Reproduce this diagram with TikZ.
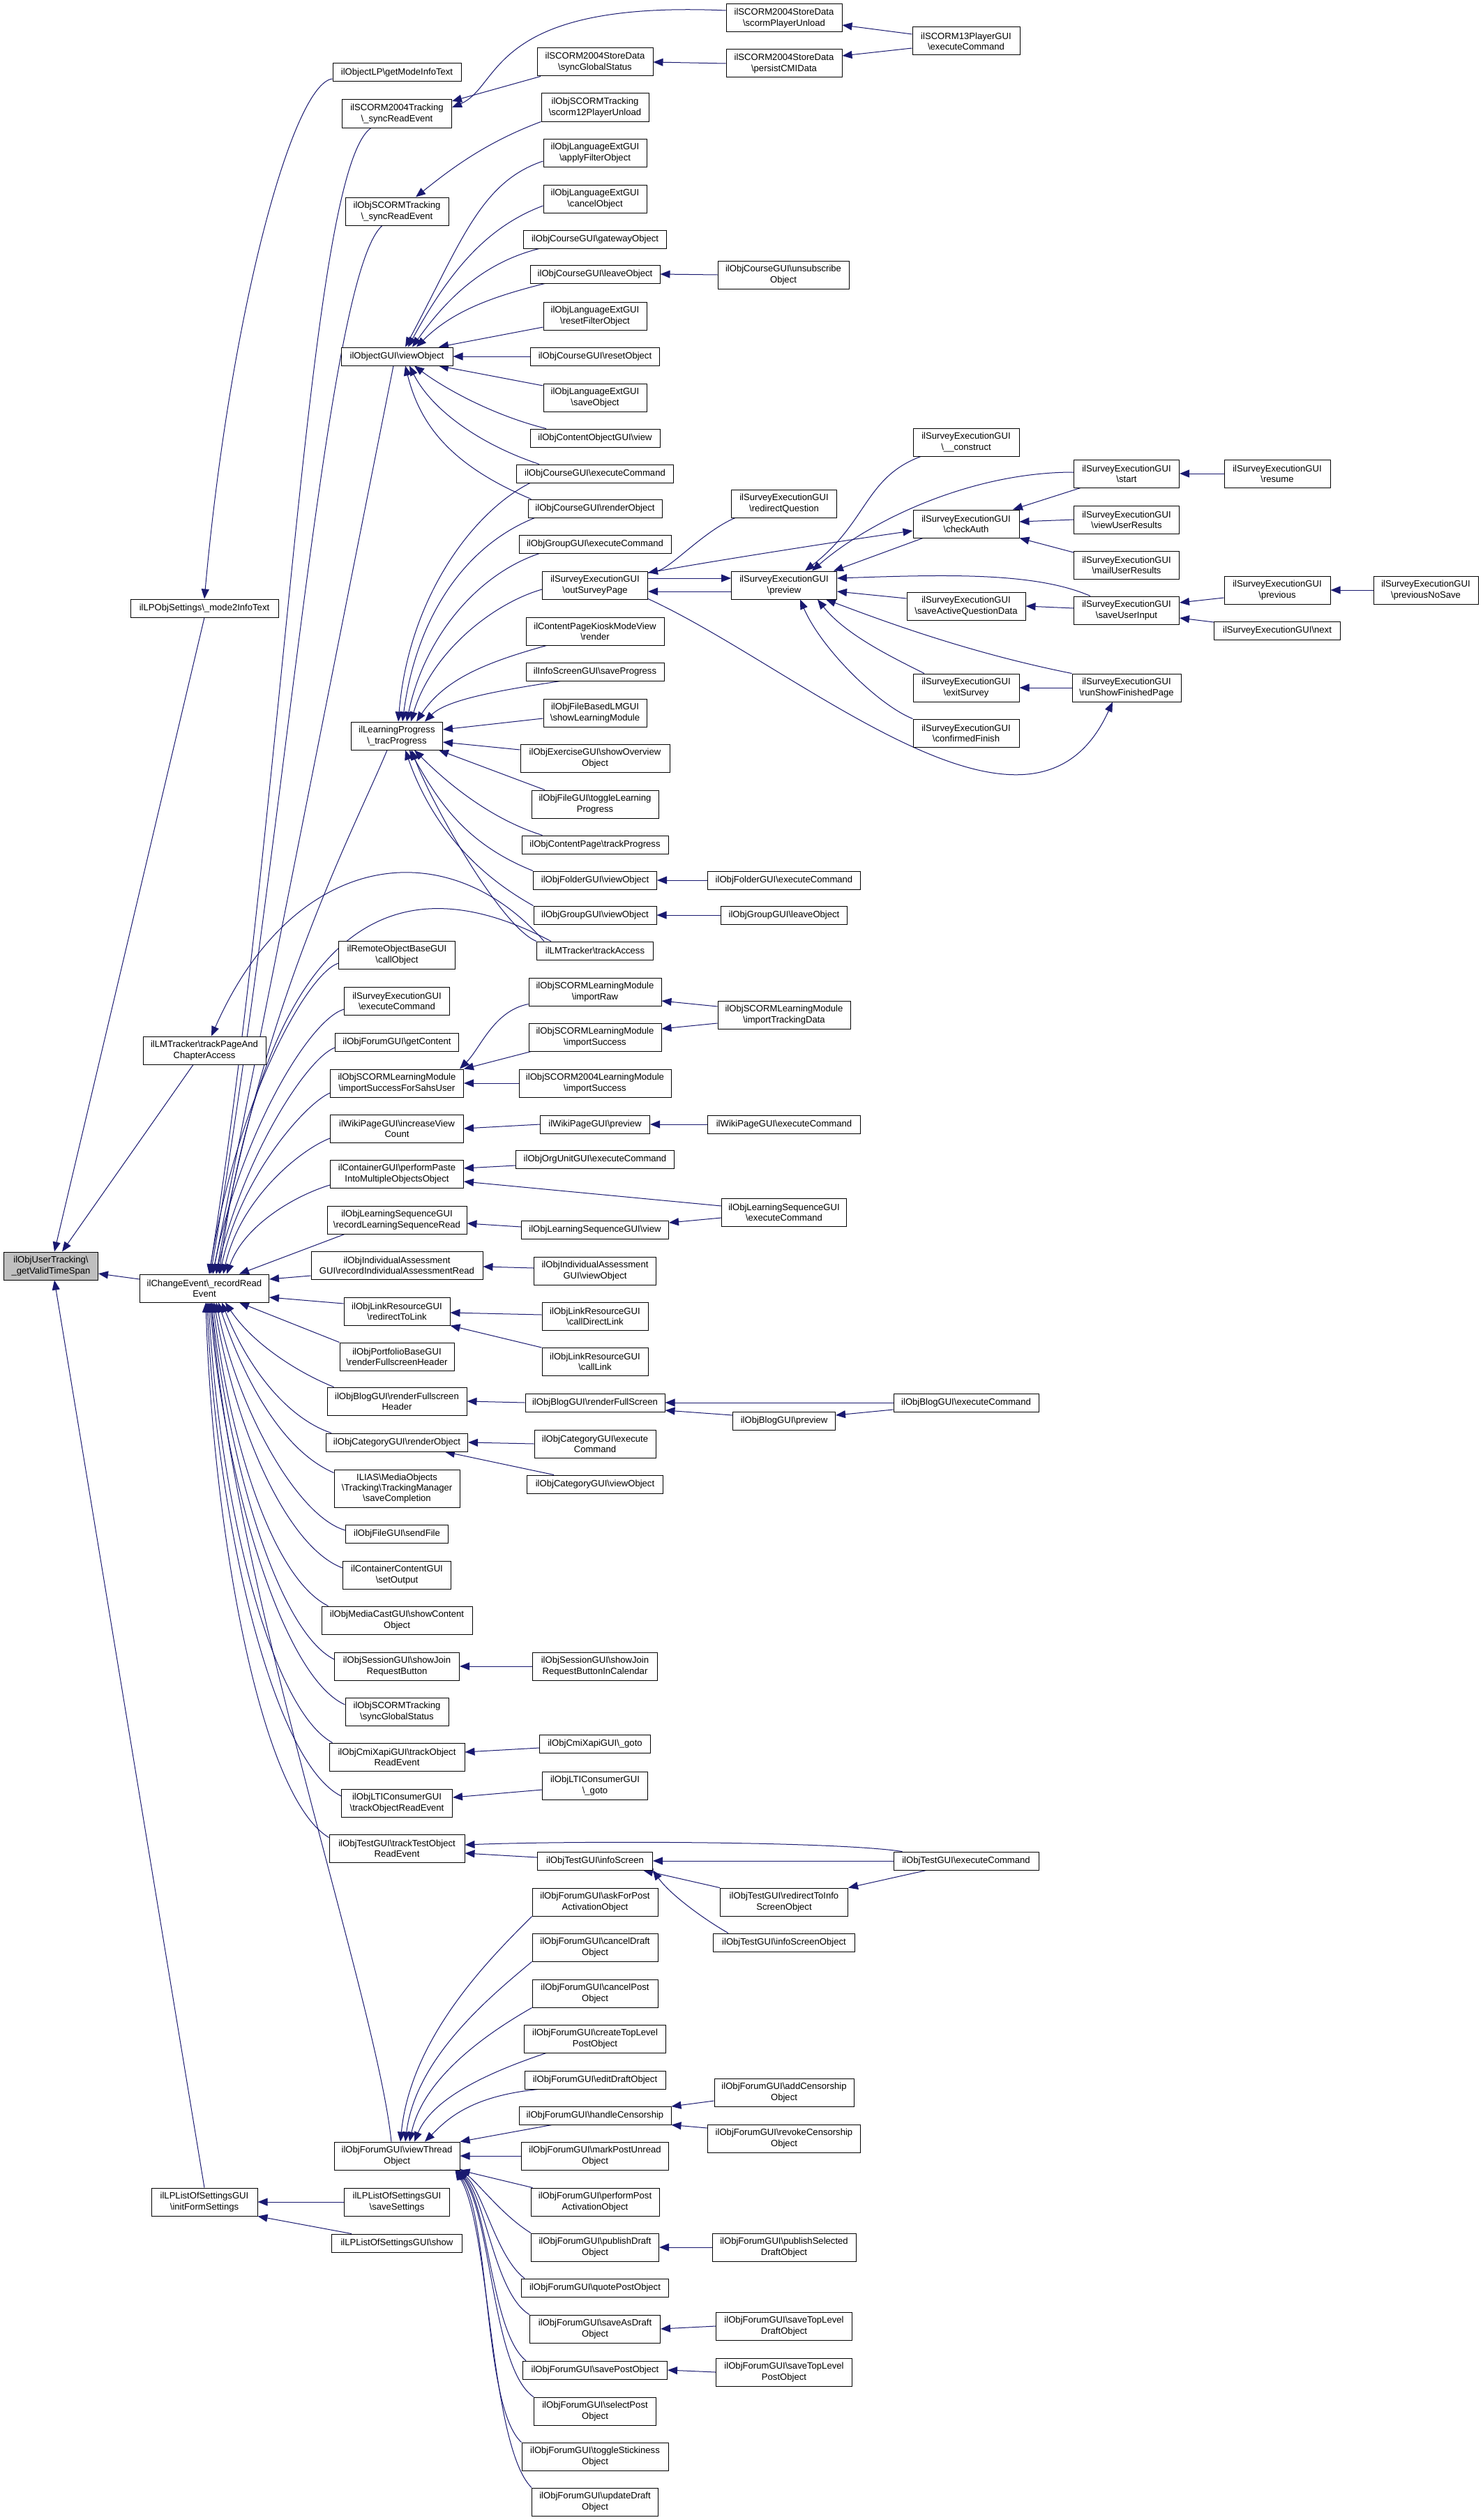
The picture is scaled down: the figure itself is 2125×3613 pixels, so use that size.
\documentclass[tikz,border=0pt]{standalone}
\usepackage{fontspec}
\setmainfont{Liberation Sans}
\usetikzlibrary{arrows.meta,calc}
\definecolor{edgec}{HTML}{191970}
\definecolor{rootgray}{HTML}{BFBFBF}
\newcommand{\BSL}{\textbackslash}
\pgfdeclarelayer{bg}
\pgfdeclarelayer{edges}
\pgfsetlayers{bg,edges,main}
\tikzset{
  box/.style={draw=black, line width=1pt, fill=white, inner sep=0pt, align=center,
    font=\fontsize{13.1}{15.3}\selectfont},
  bxa/.style={box, minimum height=26},
  bxb/.style={box, minimum height=40},
  bxc/.style={box, minimum height=54},
  arr/.style={draw=edgec, line width=1pt, -{Triangle[length=14pt,width=11pt]}}
}
\begin{document}
\begin{tikzpicture}[x=1pt,y=-1pt]
\begin{pgfonlayer}{bg}
\fill[white] (0,0) rectangle (2125,3613);
\end{pgfonlayer}
\useasboundingbox (0,0) rectangle (2125,3613);

% column 0
\node[bxb, fill=rootgray, minimum width=135] (root) at (73,1815) {ilObjUserTracking\BSL\\\_getValidTimeSpan};
% column 1
\node[bxa, minimum width=212] (m2i) at (293,872) {ilLPObjSettings\BSL\_mode2InfoText};
\node[bxb, minimum width=176] (tpca) at (293,1506) {ilLMTracker\BSL trackPageAnd\\ChapterAccess};
\node[bxb, minimum width=185] (rre) at (293,1847) {ilChangeEvent\BSL\_recordRead\\Event};
\node[bxb, minimum width=152] (ifs) at (293,3157) {ilLPListOfSettingsGUI\\\BSL initFormSettings};
% column 2
\node[bxa, minimum width=184] (gmit) at (569,104) {ilObjectLP\BSL getModeInfoText};
\node[bxb, minimum width=157] (s04sre) at (569,163) {ilSCORM2004Tracking\\\BSL\_syncReadEvent};
\node[bxb, minimum width=148] (osre) at (569,303) {ilObjSCORMTracking\\\BSL\_syncReadEvent};
\node[bxa, minimum width=160] (ogv) at (569,511) {ilObjectGUI\BSL viewObject};
\node[bxb, minimum width=131] (ltp) at (569,1055) {ilLearningProgress\\\BSL\_tracProgress};
\node[bxb, minimum width=167] (rcall) at (569,1369) {ilRemoteObjectBaseGUI\\\BSL callObject};
\node[bxb, minimum width=151] (sexec) at (569,1435) {ilSurveyExecutionGUI\\\BSL executeCommand};
\node[bxa, minimum width=177] (fgc) at (569,1494) {ilObjForumGUI\BSL getContent};
\node[bxb, minimum width=191] (iss) at (569,1553) {ilObjSCORMLearningModule\\\BSL importSuccessForSahsUser};
\node[bxb, minimum width=191] (ivc) at (569,1618) {ilWikiPageGUI\BSL increaseView\\Count};
\node[bxb, minimum width=191] (pp) at (569,1683) {ilContainerGUI\BSL performPaste\\IntoMultipleObjectsObject};
\node[bxb, minimum width=200] (rlsr) at (569,1749) {ilObjLearningSequenceGUI\\\BSL recordLearningSequenceRead};
\node[bxb, minimum width=246] (rias) at (569,1814) {ilObjIndividualAssessment\\GUI\BSL recordIndividualAssessmentRead};
\node[bxb, minimum width=152] (rtl) at (569,1880) {ilObjLinkResourceGUI\\\BSL redirectToLink};
\node[bxb, minimum width=164] (pfh) at (569,1945) {ilObjPortfolioBaseGUI\\\BSL renderFullscreenHeader};
\node[bxb, minimum width=200] (bfh) at (569,2009) {ilObjBlogGUI\BSL renderFullscreen\\Header};
\node[bxa, minimum width=203] (cro) at (569,2068) {ilObjCategoryGUI\BSL renderObject};
\node[bxc, minimum width=180] (tmsc) at (569,2134) {ILIAS\BSL MediaObjects\\\BSL Tracking\BSL TrackingManager\\\BSL saveCompletion};
\node[bxa, minimum width=147] (fsf) at (569,2199) {ilObjFileGUI\BSL sendFile};
\node[bxb, minimum width=155] (ccso) at (569,2258) {ilContainerContentGUI\\\BSL setOutput};
\node[bxb, minimum width=216] (mcsc) at (569,2323) {ilObjMediaCastGUI\BSL showContent\\Object};
\node[bxb, minimum width=179] (sjrb) at (569,2389) {ilObjSessionGUI\BSL showJoin\\RequestButton};
\node[bxb, minimum width=148] (osgs) at (569,2454) {ilObjSCORMTracking\\\BSL syncGlobalStatus};
\node[bxb, minimum width=194] (cmit) at (569,2519) {ilObjCmiXapiGUI\BSL trackObject\\ReadEvent};
\node[bxb, minimum width=159] (ltit) at (569,2585) {ilObjLTIConsumerGUI\\\BSL trackObjectReadEvent};
\node[bxb, minimum width=194] (ttre) at (569,2650) {ilObjTestGUI\BSL trackTestObject\\ReadEvent};
\node[bxb, minimum width=180] (vto) at (569,3091) {ilObjForumGUI\BSL viewThread\\Object};
\node[bxb, minimum width=151] (lss) at (569,3157) {ilLPListOfSettingsGUI\\\BSL saveSettings};
\node[bxa, minimum width=187] (lsh) at (569,3216) {ilLPListOfSettingsGUI\BSL show};
% column 3
\node[bxb, minimum width=166] (sgs) at (853,89) {ilSCORM2004StoreData\\\BSL syncGlobalStatus};
\node[bxb, minimum width=154] (s12u) at (853,154) {ilObjSCORMTracking\\\BSL scorm12PlayerUnload};
\node[bxb, minimum width=148] (afo) at (853,219) {ilObjLanguageExtGUI\\\BSL applyFilterObject};
\node[bxb, minimum width=148] (lco) at (853,285) {ilObjLanguageExtGUI\\\BSL cancelObject};
\node[bxa, minimum width=205] (cgw) at (853,343) {ilObjCourseGUI\BSL gatewayObject};
\node[bxa, minimum width=186] (clo) at (853,393) {ilObjCourseGUI\BSL leaveObject};
\node[bxb, minimum width=148] (rfo) at (853,453) {ilObjLanguageExtGUI\\\BSL resetFilterObject};
\node[bxa, minimum width=185] (crs) at (853,511) {ilObjCourseGUI\BSL resetObject};
\node[bxb, minimum width=148] (lso) at (853,570) {ilObjLanguageExtGUI\\\BSL saveObject};
\node[bxa, minimum width=186] (cov) at (853,628) {ilObjContentObjectGUI\BSL view};
\node[bxa, minimum width=225] (cex) at (853,679) {ilObjCourseGUI\BSL executeCommand};
\node[bxa, minimum width=192] (cre) at (853,729) {ilObjCourseGUI\BSL renderObject};
\node[bxa, minimum width=218] (gex) at (853,780) {ilObjGroupGUI\BSL executeCommand};
\node[bxb, minimum width=151] (osp) at (853,839) {ilSurveyExecutionGUI\\\BSL outSurveyPage};
\node[bxb, minimum width=198] (kmv) at (853,905) {ilContentPageKioskModeView\\\BSL render};
\node[bxa, minimum width=198] (isp) at (853,963) {ilInfoScreenGUI\BSL saveProgress};
\node[bxb, minimum width=148] (slm) at (853,1022) {ilObjFileBasedLMGUI\\\BSL showLearningModule};
\node[bxb, minimum width=214] (eso) at (853,1087) {ilObjExerciseGUI\BSL showOverview\\Object};
\node[bxb, minimum width=182] (ftl) at (853,1153) {ilObjFileGUI\BSL toggleLearning\\Progress};
\node[bxa, minimum width=210] (cptp) at (853,1211) {ilObjContentPage\BSL trackProgress};
\node[bxa, minimum width=177] (fvo) at (853,1262) {ilObjFolderGUI\BSL viewObject};
\node[bxa, minimum width=176] (gvo) at (853,1312) {ilObjGroupGUI\BSL viewObject};
\node[bxa, minimum width=167] (lta) at (853,1363) {ilLMTracker\BSL trackAccess};
\node[bxb, minimum width=190] (imr) at (853,1422) {ilObjSCORMLearningModule\\\BSL importRaw};
\node[bxb, minimum width=190] (ims) at (853,1487) {ilObjSCORMLearningModule\\\BSL importSuccess};
\node[bxb, minimum width=218] (im04) at (853,1553) {ilObjSCORM2004LearningModule\\\BSL importSuccess};
\node[bxa, minimum width=157] (wpp) at (853,1612) {ilWikiPageGUI\BSL preview};
\node[bxa, minimum width=227] (oue) at (853,1662) {ilObjOrgUnitGUI\BSL executeCommand};
\node[bxa, minimum width=211] (lsv) at (853,1763) {ilObjLearningSequenceGUI\BSL view};
\node[bxb, minimum width=175] (iavo) at (853,1822) {ilObjIndividualAssessment\\GUI\BSL viewObject};
\node[bxb, minimum width=152] (cdl) at (853,1887) {ilObjLinkResourceGUI\\\BSL callDirectLink};
\node[bxb, minimum width=152] (clk) at (853,1952) {ilObjLinkResourceGUI\\\BSL callLink};
\node[bxa, minimum width=200] (brfs) at (853,2011) {ilObjBlogGUI\BSL renderFullScreen};
\node[bxb, minimum width=174] (cate) at (853,2070) {ilObjCategoryGUI\BSL execute\\Command};
\node[bxa, minimum width=195] (catv) at (853,2128) {ilObjCategoryGUI\BSL viewObject};
\node[bxb, minimum width=179] (sjrc) at (853,2389) {ilObjSessionGUI\BSL showJoin\\RequestButtonInCalendar};
\node[bxa, minimum width=159] (cmig) at (853,2500) {ilObjCmiXapiGUI\BSL\_goto};
\node[bxb, minimum width=151] (ltig) at (853,2560) {ilObjLTIConsumerGUI\\\BSL\_goto};
\node[bxa, minimum width=165] (tis) at (853,2668) {ilObjTestGUI\BSL infoScreen};
\node[bxb, minimum width=180] (fap) at (853,2727) {ilObjForumGUI\BSL askForPost\\ActivationObject};
\node[bxb, minimum width=180] (fcd) at (853,2792) {ilObjForumGUI\BSL cancelDraft\\Object};
\node[bxb, minimum width=180] (fcp) at (853,2858) {ilObjForumGUI\BSL cancelPost\\Object};
\node[bxb, minimum width=203] (fctl) at (853,2923) {ilObjForumGUI\BSL createTopLevel\\PostObject};
\node[bxa, minimum width=202] (fed) at (853,2982) {ilObjForumGUI\BSL editDraftObject};
\node[bxa, minimum width=218] (fhc) at (853,3033) {ilObjForumGUI\BSL handleCensorship};
\node[bxb, minimum width=211] (fmu) at (853,3091) {ilObjForumGUI\BSL markPostUnread\\Object};
\node[bxb, minimum width=184] (fpp) at (853,3157) {ilObjForumGUI\BSL performPost\\ActivationObject};
\node[bxb, minimum width=183] (fpd) at (853,3222) {ilObjForumGUI\BSL publishDraft\\Object};
\node[bxa, minimum width=211] (fqp) at (853,3280) {ilObjForumGUI\BSL quotePostObject};
\node[bxb, minimum width=187] (fsd) at (853,3339) {ilObjForumGUI\BSL saveAsDraft\\Object};
\node[bxa, minimum width=207] (fsp) at (853,3398) {ilObjForumGUI\BSL savePostObject};
\node[bxb, minimum width=175] (fsel) at (853,3457) {ilObjForumGUI\BSL selectPost\\Object};
\node[bxb, minimum width=210] (fts) at (853,3522) {ilObjForumGUI\BSL toggleStickiness\\Object};
\node[bxb, minimum width=181] (fud) at (853,3587) {ilObjForumGUI\BSL updateDraft\\Object};
% column 4
\node[bxb, minimum width=166] (spu) at (1124,26) {ilSCORM2004StoreData\\\BSL scormPlayerUnload};
\node[bxb, minimum width=166] (pcd) at (1124,91) {ilSCORM2004StoreData\\\BSL persistCMIData};
\node[bxb, minimum width=188] (cuo) at (1123,394) {ilObjCourseGUI\BSL unsubscribe\\Object};
\node[bxb, minimum width=151] (srq) at (1124,722) {ilSurveyExecutionGUI\\\BSL redirectQuestion};
\node[bxb, minimum width=151] (spv) at (1124,839) {ilSurveyExecutionGUI\\\BSL preview};
\node[bxa, minimum width=219] (fex) at (1124,1262) {ilObjFolderGUI\BSL executeCommand};
\node[bxa, minimum width=181] (glo) at (1124,1312) {ilObjGroupGUI\BSL leaveObject};
\node[bxb, minimum width=190] (itd) at (1124,1455) {ilObjSCORMLearningModule\\\BSL importTrackingData};
\node[bxa, minimum width=219] (wpe) at (1124,1612) {ilWikiPageGUI\BSL executeCommand};
\node[bxb, minimum width=179] (lse) at (1124,1738) {ilObjLearningSequenceGUI\\\BSL executeCommand};
\node[bxa, minimum width=147] (bpv) at (1124,2037) {ilObjBlogGUI\BSL preview};
\node[bxb, minimum width=183] (rtis) at (1124,2727) {ilObjTestGUI\BSL redirectToInfo\\ScreenObject};
\node[bxa, minimum width=203] (tiso) at (1124,2785) {ilObjTestGUI\BSL infoScreenObject};
\node[bxb, minimum width=200] (fac) at (1124,3000) {ilObjForumGUI\BSL addCensorship\\Object};
\node[bxb, minimum width=219] (frc) at (1124,3066) {ilObjForumGUI\BSL revokeCensorship\\Object};
\node[bxb, minimum width=206] (fpsd) at (1124,3222) {ilObjForumGUI\BSL publishSelected\\DraftObject};
\node[bxb, minimum width=195] (fstd) at (1124,3335) {ilObjForumGUI\BSL saveTopLevel\\DraftObject};
\node[bxb, minimum width=195] (fstp) at (1124,3401) {ilObjForumGUI\BSL saveTopLevel\\PostObject};
% column 5
\node[bxb, minimum width=154] (s13) at (1385,59) {ilSCORM13PlayerGUI\\\BSL executeCommand};
\node[bxb, minimum width=152] (scon) at (1385,634) {ilSurveyExecutionGUI\\\BSL\_\_construct};
\node[bxb, minimum width=152] (sca) at (1385,751) {ilSurveyExecutionGUI\\\BSL checkAuth};
\node[bxb, minimum width=170] (saqd) at (1385,869) {ilSurveyExecutionGUI\\\BSL saveActiveQuestionData};
\node[bxb, minimum width=152] (sexs) at (1385,986) {ilSurveyExecutionGUI\\\BSL exitSurvey};
\node[bxb, minimum width=152] (scf) at (1385,1051) {ilSurveyExecutionGUI\\\BSL confirmedFinish};
\node[bxa, minimum width=208] (bex) at (1385,2011) {ilObjBlogGUI\BSL executeCommand};
\node[bxa, minimum width=208] (tex) at (1385,2668) {ilObjTestGUI\BSL executeCommand};
% column 6
\node[bxb, minimum width=151] (sst) at (1615,679) {ilSurveyExecutionGUI\\\BSL start};
\node[bxb, minimum width=151] (svur) at (1615,745) {ilSurveyExecutionGUI\\\BSL viewUserResults};
\node[bxb, minimum width=151] (smur) at (1615,810) {ilSurveyExecutionGUI\\\BSL mailUserResults};
\node[bxb, minimum width=151] (ssui) at (1615,875) {ilSurveyExecutionGUI\\\BSL saveUserInput};
\node[bxb, minimum width=156] (srsf) at (1615,986) {ilSurveyExecutionGUI\\\BSL runShowFinishedPage};
% column 7
\node[bxb, minimum width=152] (sres) at (1831,679) {ilSurveyExecutionGUI\\\BSL resume};
\node[bxb, minimum width=152] (sprev) at (1831,846) {ilSurveyExecutionGUI\\\BSL previous};
\node[bxa, minimum width=181] (snext) at (1831,904) {ilSurveyExecutionGUI\BSL next};
% column 8
\node[bxb, minimum width=150] (snsv) at (2044,846) {ilSurveyExecutionGUI\\\BSL previousNoSave};

\begin{pgfonlayer}{edges}
% into root
\draw[arr] (m2i.south) -- ([xshift=5pt]root.north);
\draw[arr] ([xshift=-16pt]tpca.south) -- ([xshift=16pt]root.north);
\draw[arr] ($(rre.west)+(0,-13)$) -- ($(root.east)+(0,11)$);
\draw[arr] (ifs.north) -- ([xshift=5pt]root.south);
% into m2i, tpca
\draw[arr] ($(gmit.west)+(0,9)$) .. controls +(-57,7) and +(37,-410) .. (m2i.north);
\draw[arr] ([xshift=-73pt]lta.north) .. controls +(-140,-160) and +(117,-266) .. ([xshift=10pt]tpca.north);
% into rre (top)
\draw[arr] ([xshift=-37pt]s04sre.south) .. controls +(-90,60) and +(110,-700) .. ([xshift=7pt]rre.north);
\draw[arr] ([xshift=-21pt]osre.south) .. controls +(-80,70) and +(110,-650) .. ([xshift=9pt]rre.north);
\draw[arr] ([xshift=-5pt]ogv.south) .. controls +(-30,150) and +(120,-600) .. ([xshift=12pt]rre.north);
\draw[arr] ([xshift=-14pt]ltp.south) .. controls +(-50,120) and +(70,-400) .. ([xshift=17pt]rre.north);
\draw[arr] ([xshift=-63pt]lta.north) .. controls +(-190,-100) and +(76,-557) .. ([xshift=21pt]rre.north);
\draw[arr] ($(rcall.west)+(0,12)$) .. controls +(-45,15) and +(40,-250) .. ([xshift=7pt]rre.north);
\draw[arr] ($(sexec.west)+(0,12)$) .. controls +(-50,15) and +(40,-200) .. ([xshift=12pt]rre.north);
\draw[arr] ($(fgc.west)+(0,8)$) .. controls +(-40,15) and +(40,-170) .. ([xshift=17pt]rre.north);
\draw[arr] ($(iss.west)+(0,14)$) .. controls +(-35,15) and +(30,-140) .. ([xshift=22pt]rre.north);
\draw[arr] ($(ivc.west)+(0,14)$) .. controls +(-40,15) and +(25,-110) .. ([xshift=27pt]rre.north);
\draw[arr] ($(pp.west)+(0,16)$) .. controls +(-50,15) and +(25,-70) .. ([xshift=32pt]rre.north);
\draw[arr] ([xshift=-75pt]rlsr.south) -- ([xshift=50pt]rre.north);
\draw[arr] ($(rias.west)+(0,15)$) -- ($(rre.east)+(0,-13)$);
\draw[arr] ($(rtl.west)+(0,-11)$) -- ($(rre.east)+(0,13)$);
% into rre (bottom)
\draw[arr] (pfh.north west) -- ([xshift=50pt]rre.south);
\draw[arr] ($(bfh.north west)+(10,0)$) .. controls +(-50,-20) and +(40,60) .. ([xshift=30pt]rre.south);
\draw[arr] ($(cro.north west)+(8,0)$) .. controls +(-60,-20) and +(40,100) .. ([xshift=25pt]rre.south);
\draw[arr] ($(tmsc.north west)+(0,5)$) .. controls +(-70,-30) and +(40,120) .. ([xshift=20pt]rre.south);
\draw[arr] ($(fsf.west)+(0,-5)$) .. controls +(-70,-20) and +(30,150) .. ([xshift=17pt]rre.south);
\draw[arr] ($(ccso.west)+(0,-10)$) .. controls +(-80,-30) and +(30,180) .. ([xshift=14pt]rre.south);
\draw[arr] ($(mcsc.north west)+(10,0)$) .. controls +(-80,-40) and +(25,200) .. ([xshift=12pt]rre.south);
\draw[arr] ($(sjrb.west)+(0,-10)$) .. controls +(-80,-40) and +(25,230) .. ([xshift=10pt]rre.south);
\draw[arr] ($(osgs.west)+(0,-10)$) .. controls +(-90,-40) and +(20,250) .. ([xshift=8pt]rre.south);
\draw[arr] ($(cmit.north west)+(5,0)$) .. controls +(-90,-50) and +(15,280) .. ([xshift=6pt]rre.south);
\draw[arr] ($(ltit.west)+(0,-10)$) .. controls +(-100,-50) and +(12,300) .. ([xshift=4pt]rre.south);
\draw[arr] ($(ttre.north west)+(0,5)$) .. controls +(-100,-60) and +(10,320) .. ([xshift=2pt]rre.south);
\draw[arr] ([xshift=-8pt]vto.north) .. controls +(-20,-200) and +(30,400) .. ([xshift=10pt]rre.south);
% into ltp
\draw[arr] ($(cex.south west)+(20,0)$) .. controls +(-80,40) and +(15,-180) .. ([xshift=2pt]ltp.north);
\draw[arr] ($(cre.south west)+(10,0)$) .. controls +(-100,40) and +(20,-150) .. ([xshift=8pt]ltp.north);
\draw[arr] ($(gex.south west)+(30,0)$) .. controls +(-90,30) and +(25,-120) .. ([xshift=14pt]ltp.north);
\draw[arr] ($(osp.west)+(0,6)$) .. controls +(-70,20) and +(30,-100) .. ([xshift=20pt]ltp.north);
\draw[arr] ($(kmv.south west)+(30,0)$) .. controls +(-90,25) and +(40,-60) .. ([xshift=28pt]ltp.north);
\draw[arr] ($(isp.south west)+(50,0)$) .. controls +(-100,15) and +(30,-30) .. ([xshift=40pt]ltp.north);
\draw[arr] ($(slm.west)+(0,8)$) -- ($(ltp.east)+(0,-9)$);
\draw[arr] ($(eso.west)+(0,-12)$) -- ($(ltp.east)+(0,9)$);
\draw[arr] ([xshift=-72pt]ftl.north) -- ($(ltp.south east)+(-6,0)$);
\draw[arr] ($(cptp.north west)+(30,0)$) .. controls +(-80,-25) and +(40,40) .. ([xshift=25pt]ltp.south);
\draw[arr] (fvo.north west) .. controls +(-100,-40) and +(40,70) .. ([xshift=18pt]ltp.south);
\draw[arr] (gvo.north west) .. controls +(-90,-50) and +(35,100) .. ([xshift=12pt]ltp.south);
\draw[arr] (lta.north west) .. controls +(-50,-20) and +(30,80) .. ([xshift=21pt]ltp.south);
% into ogv
\draw[arr] ($(afo.west)+(0,12)$) .. controls +(-90,30) and +(80,-150) .. ([xshift=12pt]ogv.north);
\draw[arr] ($(lco.west)+(0,10)$) .. controls +(-80,30) and +(60,-110) .. ([xshift=16pt]ogv.north);
\draw[arr] ([xshift=-80pt]cgw.south) .. controls +(-80,20) and +(50,-70) .. ([xshift=22pt]ogv.north);
\draw[arr] ([xshift=-72pt]clo.south) .. controls +(-80,20) and +(50,-50) .. ([xshift=28pt]ogv.north);
\draw[arr] ($(rfo.west)+(0,16)$) -- ([xshift=60pt]ogv.north);
\draw[arr] (crs.west) -- (ogv.east);
\draw[arr] ($(lso.west)+(0,-17)$) -- ([xshift=60pt]ogv.south);
\draw[arr] ([xshift=-70pt]cov.north) .. controls +(-80,-20) and +(40,30) .. ([xshift=25pt]ogv.south);
\draw[arr] ([xshift=-80pt]cex.north) .. controls +(-90,-30) and +(30,60) .. ([xshift=18pt]ogv.south);
\draw[arr] ($(cre.north west)+(5,0)$) .. controls +(-120,-50) and +(20,80) .. ([xshift=12pt]ogv.south);
% scorm / course
\draw[arr] (cuo.west) -- (clo.east);
\draw[arr] (s12u.south west) .. controls +(-80,30) and +(50,-40) .. ([xshift=27pt]osre.north);
\draw[arr] ([xshift=-78pt]sgs.south) -- ($(s04sre.east)+(0,-18)$);
\draw[arr] ($(spu.west)+(0,-11)$) .. controls +(-341,-15) and +(71,-30) .. ($(s04sre.east)+(0,-9)$);
\draw[arr] (pcd.west) -- (sgs.east);
\draw[arr] ($(s13.west)+(0,-10)$) -- ($(spu.east)+(0,10)$);
\draw[arr] ($(s13.west)+(0,10)$) -- ($(pcd.east)+(0,-11)$);
% survey
\draw[arr] ([xshift=-70pt]srq.south) .. controls +(-44,18) and +(32,-6) .. ($(osp.east)+(0,-18)$);
\draw[arr] ($(spv.west)+(0,9)$) -- ($(osp.east)+(0,9)$);
\draw[arr] ($(osp.east)+(0,-10)$) -- ($(spv.west)+(0,-10)$);
\draw[arr] ($(osp.north east)+(0,3)$) .. controls +(60,-12) and +(-100,14) .. ($(sca.west)+(0,10)$);
\draw[arr] ($(osp.south east)+(0,-1)$) .. controls +(222,102) and +(-115,254) .. ([xshift=-20pt]srsf.south);
\draw[arr] ([xshift=-65pt]scon.south) .. controls +(-80,30) and +(90,-70) .. ([xshift=30pt]spv.north);
\draw[arr] ($(sst.west)+(0,-2)$) .. controls +(-150,0) and +(80,-70) .. ([xshift=40pt]spv.north);
\draw[arr] ([xshift=-62pt]sca.south) -- ($(spv.north east)+(-5,0)$);
\draw[arr] ([xshift=-52pt]ssui.north) .. controls +(-80,-35) and +(150,-5) .. ($(spv.east)+(0,-10)$);
\draw[arr] ($(saqd.west)+(0,-11)$) -- ($(spv.east)+(0,9)$);
\draw[arr] (srsf.north west) .. controls +(-150,-30) and +(80,30) .. ([xshift=60pt]spv.south);
\draw[arr] ([xshift=-60pt]sexs.north) .. controls +(-50,-25) and +(40,50) .. ([xshift=48pt]spv.south);
\draw[arr] (scf.north west) .. controls +(-50,-20) and +(30,70) .. ([xshift=23pt]spv.south);
\draw[arr] ([xshift=-66pt]sst.south) -- ([xshift=67pt]sca.north);
\draw[arr] (svur.west) -- ($(sca.east)+(0,-3)$);
\draw[arr] ($(smur.west)+(0,-18)$) -- (sca.south east);
\draw[arr] (sres.west) -- (sst.east);
\draw[arr] ($(sprev.west)+(0,11)$) -- ($(ssui.east)+(0,-11)$);
\draw[arr] ($(snext.west)+(0,-12)$) -- ($(ssui.east)+(0,11)$);
\draw[arr] (snsv.west) -- (sprev.east);
\draw[arr] ($(ssui.west)+(0,-3)$) -- (saqd.east);
\draw[arr] (srsf.west) -- (sexs.east);
% folder / group
\draw[arr] (fex.west) -- (fvo.east);
\draw[arr] (glo.west) -- (gvo.east);
% scorm learning module
\draw[arr] ($(imr.south west)+(0,-3)$) .. controls +(-50,10) and +(30,-30) .. ($(iss.north east)+(-6,0)$);
\draw[arr] ($(ims.south west)+(4,0)$) -- (iss.north east);
\draw[arr] (im04.west) -- (iss.east);
\draw[arr] ($(itd.west)+(0,-12)$) -- ($(imr.east)+(0,13)$);
\draw[arr] ($(itd.west)+(0,12)$) -- ($(ims.east)+(0,-12)$);
% wiki, paste, sequence, assessment, link
\draw[arr] (wpp.west) -- (ivc.east);
\draw[arr] (wpe.west) -- (wpp.east);
\draw[arr] ($(oue.west)+(0,9)$) -- ($(pp.east)+(0,-8)$);
\draw[arr] ($(lse.west)+(0,-9)$) -- ($(pp.east)+(0,11)$);
\draw[arr] ($(lse.west)+(0,8)$) -- ($(lsv.east)+(0,-10)$);
\draw[arr] ($(lsv.west)+(0,-4)$) -- ($(rlsr.east)+(0,5)$);
\draw[arr] ($(iavo.west)+(0,-4)$) -- ($(rias.east)+(0,2)$);
\draw[arr] ($(cdl.west)+(0,-2)$) -- ($(rtl.east)+(0,2)$);
\draw[arr] ($(clk.west)+(0,-20)$) -- (rtl.south east);
% blog
\draw[arr] (brfs.west) -- (bfh.east);
\draw[arr] (bex.west) -- (brfs.east);
\draw[arr] ($(bpv.west)+(0,-8)$) -- ($(brfs.east)+(0,11)$);
\draw[arr] ($(bex.west)+(0,10)$) -- ($(bpv.east)+(0,-8)$);
% category, session, cmi, lti
\draw[arr] (cate.west) -- (cro.east);
\draw[arr] ([xshift=-59pt]catv.north) -- ([xshift=69pt]cro.south);
\draw[arr] (sjrc.west) -- (sjrb.east);
\draw[arr] ($(cmig.west)+(0,6)$) -- ($(cmit.east)+(0,-7)$);
\draw[arr] ($(ltig.west)+(0,6)$) -- ($(ltit.east)+(0,-8)$);
% test
\draw[arr] ($(tex.north west)+(13,0)$) .. controls +(-100,-15) and +(150,-6) .. ($(ttre.east)+(0,-5)$);
\draw[arr] ($(tis.west)+(0,-5)$) -- ($(ttre.east)+(0,7)$);
\draw[arr] (tex.west) -- (tis.east);
\draw[arr] (rtis.north west) -- ([xshift=69pt]tis.south);
\draw[arr] ([xshift=-80pt]tiso.north) .. controls +(-35,-20) and +(25,35) .. (tis.south east);
\draw[arr] ([xshift=-57pt]tex.south) -- (rtis.north east);
% forum
\draw[arr] (fap.south west) .. controls +(-60,60) and +(15,-150) .. ([xshift=5pt]vto.north);
\draw[arr] (fcd.south west) .. controls +(-60,50) and +(15,-120) .. ([xshift=12pt]vto.north);
\draw[arr] (fcp.south west) .. controls +(-70,40) and +(20,-90) .. ([xshift=18pt]vto.north);
\draw[arr] ([xshift=-70pt]fctl.south) .. controls +(-90,30) and +(25,-60) .. ([xshift=25pt]vto.north);
\draw[arr] ($(fed.south west)+(20,0)$) .. controls +(-100,10) and +(30,-30) .. ([xshift=40pt]vto.north);
\draw[arr] ([xshift=-62pt]fhc.south) -- (vto.north east);
\draw[arr] (fmu.west) -- (vto.east);
\draw[arr] ($(fpp.north west)+(3,0)$) -- (vto.south east);
\draw[arr] (fpd.north west) .. controls +(-40,-25) and +(30,25) .. ($(vto.south east)+(0,-2)$);
\draw[arr] ($(fqp.north west)+(5,0)$) .. controls +(-40,-30) and +(35,30) .. ($(vto.south east)+(-2,0)$);
\draw[arr] (fsd.north west) .. controls +(-50,-30) and +(40,40) .. ($(vto.south east)+(-3,0)$);
\draw[arr] ($(fsp.north west)+(5,0)$) .. controls +(-50,-40) and +(45,50) .. ($(vto.south east)+(-4,0)$);
\draw[arr] (fsel.north west) .. controls +(-60,-40) and +(50,60) .. ($(vto.south east)+(-5,0)$);
\draw[arr] (fts.north west) .. controls +(-55,-50) and +(50,70) .. ($(vto.south east)+(-6,0)$);
\draw[arr] (fud.north west) .. controls +(-60,-60) and +(50,80) .. ($(vto.south east)+(-7,0)$);
\draw[arr] ($(fac.west)+(0,12)$) -- ($(fhc.east)+(0,-13)$);
\draw[arr] ($(frc.west)+(0,-15)$) -- (fhc.south east);
\draw[arr] (fpsd.west) -- (fpd.east);
\draw[arr] (fstd.west) -- (fsd.east);
\draw[arr] (fstp.west) -- (fsp.east);
% LP settings
\draw[arr] (lss.west) -- (ifs.east);
\draw[arr] ([xshift=-65pt]lsh.north) -- (ifs.south east);
\end{pgfonlayer}
\end{tikzpicture}
\end{document}
